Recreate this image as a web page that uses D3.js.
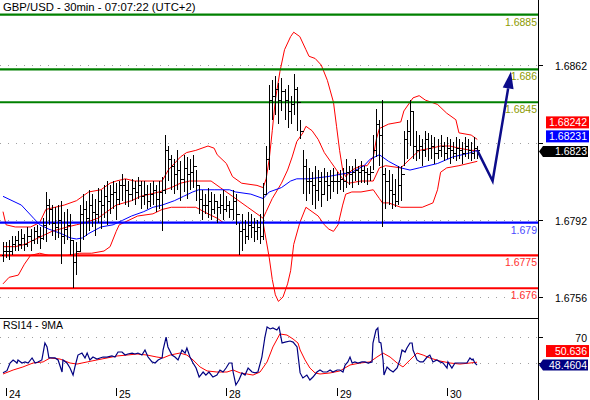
<!DOCTYPE html>
<html><head><meta charset="utf-8">
<script src="https://cdn.jsdelivr.net/npm/d3@7"></script>
<style>body{margin:0;background:#fff}svg{display:block;font-family:Arial,"Liberation Sans",sans-serif}</style>
</head><body><svg id="c" width="590" height="400"></svg>
<script>
const title = "GBP/USD - 30min - 07:07:22 (UTC+2)";
const rsiTitle = "RSI14 - 9MA";
const firstOpen = 1.6775;
const highs = [1.6781,1.6781,1.6782,1.6784,1.6784,1.6786,1.6787,1.6785,1.6788,1.6787,
1.6788,1.6789,1.6788,1.6792,1.6804,1.6801,1.6798,1.6797,1.6798,1.6800,
1.6795,1.6796,1.6794,1.6782,1.6781,1.6798,1.6803,1.6800,1.6805,1.6803,
1.6801,1.6806,1.6805,1.6807,1.6809,1.6807,1.6809,1.6808,1.6809,1.6812,
1.6810,1.6809,1.6810,1.6809,1.6811,1.6809,1.6809,1.6807,1.6808,1.6809,
1.6807,1.6809,1.6811,1.6830,1.6825,1.6821,1.6819,1.6823,1.6818,1.6821,
1.6820,1.6819,1.6821,1.6814,1.6807,1.6805,1.6803,1.6806,1.6804,1.6803,
1.6800,1.6803,1.6805,1.6802,1.6800,1.6805,1.6803,1.6790,1.6794,1.6791,
1.6795,1.6794,1.6792,1.6791,1.6794,1.6808,1.6825,1.6853,1.6855,1.6857,
1.6854,1.6856,1.6851,1.6853,1.6848,1.6858,1.6852,1.6837,1.6823,1.6819,
1.6815,1.6813,1.6816,1.6814,1.6813,1.6815,1.6813,1.6814,1.6815,1.6813,
1.6814,1.6815,1.6819,1.6816,1.6816,1.6819,1.6816,1.6818,1.6816,1.6815,
1.6816,1.6830,1.6842,1.6837,1.6846,1.6815,1.6814,1.6812,1.6810,1.6816,
1.6816,1.6832,1.6837,1.6846,1.6841,1.6832,1.6830,1.6828,1.6832,1.6831,
1.6830,1.6829,1.6828,1.6830,1.6827,1.6829,1.6828,1.6827,1.6829,1.6828,
1.6827,1.6829,1.6828,1.6827,1.6829,1.6825];
const lows = [1.6772,1.6774,1.6773,1.6775,1.6777,1.6777,1.6778,1.6777,1.6779,1.6777,
1.6780,1.6780,1.6778,1.6782,1.6781,1.6789,1.6784,1.6782,1.6783,1.6771,
1.6780,1.6782,1.6775,1.6760,1.6766,1.6777,1.6782,1.6784,1.6786,1.6788,
1.6784,1.6790,1.6787,1.6792,1.6789,1.6794,1.6796,1.6791,1.6798,1.6800,
1.6798,1.6797,1.6800,1.6798,1.6801,1.6796,1.6798,1.6796,1.6797,1.6798,
1.6795,1.6796,1.6786,1.6803,1.6809,1.6805,1.6803,1.6805,1.6800,1.6804,
1.6801,1.6805,1.6806,1.6800,1.6794,1.6791,1.6794,1.6792,1.6791,1.6794,
1.6790,1.6794,1.6791,1.6795,1.6792,1.6791,1.6789,1.6775,1.6777,1.6780,
1.6782,1.6783,1.6781,1.6782,1.6780,1.6782,1.6803,1.6814,1.6837,1.6839,
1.6835,1.6841,1.6837,1.6833,1.6835,1.6839,1.6832,1.6828,1.6803,1.6800,
1.6803,1.6798,1.6796,1.6800,1.6797,1.6803,1.6800,1.6801,1.6804,1.6803,
1.6805,1.6804,1.6806,1.6807,1.6806,1.6809,1.6807,1.6808,1.6808,1.6807,
1.6809,1.6814,1.6820,1.6816,1.6788,1.6796,1.6798,1.6796,1.6797,1.6798,
1.6800,1.6816,1.6819,1.6825,1.6819,1.6818,1.6819,1.6816,1.6820,1.6818,
1.6819,1.6817,1.6819,1.6820,1.6818,1.6819,1.6817,1.6819,1.6818,1.6819,
1.6817,1.6820,1.6819,1.6818,1.6819,1.6819];
const closes = [1.6777,1.6777,1.6777,1.6780,1.6782,1.6780,1.6783,1.6780,1.6784,1.6782,
1.6786,1.6784,1.6783,1.6789,1.6798,1.6796,1.6790,1.6788,1.6791,1.6784,
1.6787,1.6789,1.6782,1.6772,1.6777,1.6794,1.6796,1.6792,1.6798,1.6795,
1.6794,1.6800,1.6798,1.6802,1.6800,1.6803,1.6804,1.6801,1.6807,1.6807,
1.6805,1.6803,1.6806,1.6804,1.6807,1.6802,1.6803,1.6800,1.6803,1.6805,
1.6801,1.6804,1.6805,1.6823,1.6819,1.6816,1.6812,1.6814,1.6810,1.6815,
1.6812,1.6813,1.6816,1.6807,1.6801,1.6798,1.6798,1.6800,1.6796,1.6800,
1.6797,1.6798,1.6796,1.6798,1.6796,1.6800,1.6794,1.6786,1.6787,1.6784,
1.6789,1.6788,1.6786,1.6788,1.6784,1.6803,1.6819,1.6846,1.6848,1.6851,
1.6846,1.6850,1.6846,1.6841,1.6844,1.6851,1.6845,1.6832,1.6816,1.6809,
1.6809,1.6807,1.6805,1.6809,1.6803,1.6809,1.6807,1.6809,1.6809,1.6809,
1.6810,1.6809,1.6813,1.6812,1.6813,1.6814,1.6813,1.6814,1.6813,1.6812,
1.6813,1.6823,1.6835,1.6830,1.6812,1.6809,1.6805,1.6803,1.6800,1.6807,
1.6812,1.6828,1.6832,1.6841,1.6825,1.6823,1.6825,1.6823,1.6828,1.6824,
1.6825,1.6822,1.6823,1.6825,1.6822,1.6824,1.6823,1.6822,1.6824,1.6823,
1.6822,1.6825,1.6823,1.6822,1.6824,1.6823];

const bbUpper = [[0,1.6795],[1,1.6789],[4,1.6788],[9,1.6788],[12,1.6790],[14,1.6796],[17,1.6797],[20,1.6798],[24,1.6800],[26,1.6802],[28,1.6804],[32,1.6805],[35,1.6808],[37,1.6809],[40,1.6810],[43,1.6809],[46,1.6809],[50,1.6809],[52,1.6809],[54,1.6814],[56,1.6817],[58,1.6820],[60,1.6822],[63,1.6823],[67,1.6825],[69,1.6824],[70,1.6821],[73,1.6817],[75,1.6811],[78,1.6808],[83,1.6807],[85,1.6806],[86,1.6810],[87,1.6819],[88,1.6832],[89,1.6846],[90.5,1.6859],[92,1.6869],[94,1.6875],[95,1.6877],[97,1.6875],[99,1.6869],[100,1.6866],[102,1.6865],[104,1.6862],[106,1.6855],[108,1.6845],[109,1.6834],[110,1.6823],[111,1.6814],[112,1.6811],[114,1.6814],[117,1.6816],[119,1.6816],[121,1.6820],[122,1.6828],[123,1.6833],[126,1.6835],[130,1.6836],[131,1.6841],[133,1.6845],[134,1.6847],[136,1.6848],[138,1.6846],[142,1.6844],[145,1.6840],[148,1.6837],[149,1.6831],[153,1.6830],[155,1.6828]];
const bbMiddle = [[0,1.6779],[4,1.6779],[7,1.6780],[10,1.6782],[13,1.6784],[16,1.6786],[21,1.6788],[24,1.6789],[27,1.6790],[31,1.6792],[34,1.6795],[37,1.6798],[42,1.6800],[45,1.6802],[48,1.6803],[51,1.6804],[55,1.6806],[58,1.6808],[61,1.6809],[64,1.6809],[68,1.6809],[71,1.6806],[75,1.6802],[80,1.6797],[83,1.6794],[85,1.6792],[86,1.6795],[88,1.6801],[91,1.6808],[93,1.6814],[94.5,1.6820],[96,1.6827],[98,1.6831],[99,1.6834],[101,1.6832],[103,1.6828],[105,1.6822],[107,1.6818],[109,1.6814],[111,1.6810],[113,1.6808],[117,1.6809],[121,1.6809],[123,1.6815],[125,1.6816],[130,1.6815],[133,1.6819],[136,1.6823],[140,1.6824],[143,1.6825],[146,1.6825],[149,1.6824],[153,1.6823],[155,1.6823]];
const bbLower = [[0,1.6762],[2,1.6765],[5,1.6766],[7,1.6771],[9,1.6775],[12,1.6776],[15,1.6775],[21,1.6775],[25,1.6776],[29,1.6776],[33,1.6777],[35,1.6779],[37,1.6786],[38,1.6789],[41,1.6791],[44,1.6793],[49,1.6794],[52,1.6796],[55,1.6797],[60,1.6797],[63,1.6797],[67,1.6794],[70,1.6792],[72,1.6790],[75,1.6790],[81,1.6790],[85,1.6790],[86,1.6782],[87,1.6774],[88,1.6764],[89,1.6757],[90,1.6754],[91.5,1.6756],[93,1.6762],[94,1.6768],[95,1.6780],[97,1.6790],[99,1.6797],[101,1.6795],[103,1.6793],[105,1.6789],[106.5,1.6787],[108,1.6786],[109.5,1.6789],[111,1.6798],[112,1.6803],[114,1.6804],[117,1.6804],[121,1.6805],[123,1.6801],[124,1.6799],[126,1.6799],[130,1.6797],[133,1.6797],[137,1.6797],[140.5,1.6799],[142,1.6805],[143,1.6813],[145,1.6815],[149,1.6816],[155,1.6818]];
const maBlue = [[0,1.6802],[6,1.6798],[10,1.6792],[12,1.6789],[15,1.6787],[19,1.6785],[22,1.6783],[24,1.67825],[26,1.6783],[28,1.6785],[32,1.6788],[36,1.6789],[39,1.6791],[42,1.6793],[46,1.6795],[49,1.6797],[52,1.6798],[56,1.6800],[59,1.6802],[62,1.6804],[64,1.6805],[69,1.6805],[74,1.6805],[76,1.6804],[81,1.6803],[85,1.6801],[87,1.6804],[91,1.6806],[94,1.6809],[96,1.6810],[100,1.6810],[106,1.6811],[110,1.6812],[114,1.6813],[118,1.6816],[120,1.6819],[123,1.6821],[124,1.6820],[126,1.6818],[130,1.6815],[133,1.6814],[136,1.6815],[142,1.6817],[147,1.6820],[153,1.6822],[155,1.6823]];

const rsi = [[0,42.7],[1.3,44.2],[2.3,50],[3.3,52.3],[4.6,50],[4.9,52.3],[6.2,50],[7.2,50.8],[8.2,50],[9.5,53.8],[10.5,50],[11.4,50.8],[12.7,52.3],[13.7,65.1],[14.4,62.1],[15,53.8],[16,53.8],[17,53.8],[18,52.3],[19.3,43.2],[19.6,52.3],[20.9,50],[21.9,46.2],[22.9,40.9],[23.5,47],[24.5,56],[25.8,57.5],[26.8,53.8],[27.5,57.5],[28.4,52.3],[29.4,54.5],[30.7,53],[31.7,53.8],[32.7,54.5],[34,54.5],[35.6,55.3],[36.6,54.5],[37.6,58.3],[38.9,58.3],[39.9,56],[40.8,56.8],[42.2,57.5],[43.1,56.8],[44.1,57.5],[45.4,56],[46.4,59.8],[47.4,54.5],[48.7,50.8],[49.7,50],[50.7,52.3],[52,53.8],[52.3,59.8],[53.3,69.6],[53.9,62.1],[55.2,56],[56.2,54.5],[57.2,52.3],[58.5,59.8],[59.5,57.5],[60.1,61.3],[61.1,54.5],[62.1,50],[63.1,46.2],[64.1,39.4],[65.4,43.2],[66.3,40.9],[67.3,43.2],[68.6,39.4],[69.9,40.9],[70.9,44.7],[71.9,43.2],[72.9,46.2],[73.9,50],[74.8,50],[75.2,43.2],[76.1,33.4],[77.1,37.2],[78.1,42.5],[79.1,40.9],[80.1,46.2],[81.4,43.2],[82.4,42.5],[83.3,43.2],[84.6,54.5],[85.6,69.6],[86.3,77.2],[87.3,75.7],[88.2,76.4],[89.5,74.9],[90.2,77.2],[91.2,65.1],[92.2,65.8],[93.8,66.6],[94.8,65.8],[96.1,62.1],[97.1,42.5],[98,38.7],[99.3,40.9],[100.3,37.2],[101.3,39.4],[102.6,43.2],[103.6,44.7],[104.6,43.2],[105.9,43.2],[106.9,44.7],[107.8,43.2],[109.2,44.7],[110.1,44.7],[111.1,43.2],[111.8,48.5],[112.7,50.8],[113.4,54.5],[114.1,50],[115,50.8],[116,50],[117.3,50.8],[118.3,50.8],[119.3,50],[120.6,50.8],[120.9,65.1],[121.9,74.9],[122.5,76.4],[122.9,65.8],[123.5,65.1],[124.2,52.3],[124.5,40.9],[125.5,47],[126.5,44.7],[127.5,43.2],[128.8,46.2],[129.7,52.3],[130.4,59.8],[131.4,58.3],[132,61.3],[133,65.1],[133.7,65.1],[134,59.8],[135.3,52.3],[136.3,50.8],[137.3,50.8],[138.6,54.5],[139.5,56],[140.5,50.8],[141.8,52.3],[142.8,50.8],[143.8,50],[145.1,46.2],[145.4,50.8],[146.7,46.2],[147.7,50],[148.7,50],[150.3,50],[151.6,50],[152.6,53.8],[153.3,52.3],[153.6,53],[154.2,50],[154.9,48.46]];
const rsiMA = [[0,41.7],[3.3,44.7],[6.5,47],[9.8,50],[13.1,50.8],[15.4,53.8],[18.6,53],[21.9,50],[24.2,49.2],[27.5,50.8],[30.7,52.3],[34,53.8],[37.3,55.3],[40.5,56],[43.8,56.8],[47.1,56],[50.3,54.5],[52.3,53.8],[54.6,56],[57.8,57.5],[60.1,56],[62.1,52.3],[64.4,47],[66.7,44],[69.9,43.2],[73.2,43.2],[75.2,44.7],[77.5,42.5],[79.7,41.7],[81.7,40.9],[84,43.2],[86.3,50.8],[88.2,62.1],[90.5,71.9],[92.8,71.1],[94.8,68.1],[96.4,65.1],[97.1,59.8],[98.7,52.3],[100.3,46.2],[102,42.5],[103.6,41.7],[106.9,42.5],[110.1,44],[113.4,48.5],[116.7,50],[119.9,50.8],[122.2,54.5],[124.2,57.5],[126.5,54.5],[128.8,50],[130.7,47],[133,52.3],[135.3,57.5],[137.3,56],[139.5,53.8],[142.8,51.5],[146.1,50],[149.3,49.2],[152.6,50],[154.9,50.6]];

const dayTicks = [1,37,73,109,145];
const dayLabels = ["24","25","28","29","30"];
const priceTicks = [1.6862,1.68265,1.6791,1.6756];
const priceTickLabels = ["1.6862","","1.6792","1.6756"];
const rsiTicks = [70,50];
const rsiTickLabels = ["70",""];
const greenLevels = [1.6885,1.686,1.6845];
const greenLabels = ["1.6885","1.686","1.6845"];
const blueLevels = [1.679];
const blueLabels = ["1.679"];
const redLevels = [1.6775,1.676];
const redLabels = ["1.6775","1.676"];
const forecast = [[155,1.6823],[160,1.6809],[166,1.6859]];
const markerBB = "1.68242", markerMA = "1.68231", markerPrice = "1.6823";
const markerRsiMA = "50.636", markerRsi = "48.4604";

const svg = d3.select("#c");
const plotR = 538, panelSep = 318;
const x = d3.scaleLinear().domain([0,155]).range([3,477.3]);
const y = d3.scaleLinear().domain([1.6756,1.6885]).range([297,14.7]);
const yR = d3.scaleLinear().domain([50,70]).range([363,336.5]);
const FS = "10.5px";

// grid dotted lines
const grid = svg.append("g");
priceTicks.forEach(v=>{
  grid.append("line").attr("x1",0).attr("x2",plotR).attr("y1",Math.round(y(v))+0.5).attr("y2",Math.round(y(v))+0.5)
    .attr("stroke","#a0a0a0").attr("stroke-dasharray","1,7");
});
rsiTicks.forEach(v=>{
  grid.append("line").attr("x1",0).attr("x2",plotR).attr("y1",Math.round(yR(v))+0.5).attr("y2",Math.round(yR(v))+0.5)
    .attr("stroke","#a0a0a0").attr("stroke-dasharray","1,7");
});

// level lines
function levels(arr, labels, color, tcolor){
  arr.forEach((v,i)=>{
    const yy = y(v);
    svg.append("line").attr("x1",0).attr("x2",plotR).attr("y1",yy).attr("y2",yy).attr("stroke",color).attr("stroke-width",2.2);
    svg.append("text").attr("x",plotR-1).attr("y",yy+11).attr("text-anchor","end").attr("font-size",FS).attr("fill",tcolor).text(labels[i]);
  });
}

const line = d3.line().x(d=>x(d[0])).y(d=>y(d[1]));
svg.append("defs").append("clipPath").attr("id","cm").append("rect").attr("x",0).attr("y",0).attr("width",plotR).attr("height",panelSep);
const gMain = svg.append("g").attr("clip-path","url(#cm)");

// bands
[bbUpper,bbMiddle,bbLower].forEach(b=>{
  gMain.append("path").datum(b).attr("d",line).attr("fill","none").attr("stroke","#ff0000").attr("stroke-width",1);
});
gMain.append("path").datum(maBlue).attr("d",line).attr("fill","none").attr("stroke","#0000ff").attr("stroke-width",1);

levels(greenLevels, greenLabels, "#008000", "#8c9a00");
levels(blueLevels, blueLabels, "#0000ff", "#4a4aff");
levels(redLevels, redLabels, "#ff0000", "#ff3030");

// bars
const opens = closes.map((c,i)=> i===0 ? firstOpen : closes[i-1]);
const gb = svg.append("g").attr("stroke","#000").attr("stroke-width",1).attr("shape-rendering","crispEdges");
highs.forEach((h,i)=>{
  const xx = Math.round(x(i))+0.5;
  gb.append("line").attr("x1",xx).attr("x2",xx).attr("y1",y(h)).attr("y2",y(lows[i]));
  gb.append("line").attr("x1",xx-2).attr("x2",xx).attr("y1",Math.round(y(opens[i]))+0.5).attr("y2",Math.round(y(opens[i]))+0.5);
  gb.append("line").attr("x1",xx).attr("x2",xx+2).attr("y1",Math.round(y(closes[i]))+0.5).attr("y2",Math.round(y(closes[i]))+0.5);
});

// forecast arrow
const fc = forecast.map(d=>[x(d[0]),y(d[1])]);
const last = fc[fc.length-1], prev = fc[fc.length-2];
const ang = Math.atan2(last[1]-prev[1], last[0]-prev[0]);
const headLen = 17, headW = 5.5;
const bx = last[0]-headLen*Math.cos(ang), by = last[1]-headLen*Math.sin(ang);
svg.append("path").attr("d", d3.line()([fc[0],fc[1],[bx,by]])).attr("fill","none").attr("stroke","#0c0c8a").attr("stroke-width",2.5);
svg.append("path").attr("d", d3.line()([last,[bx+headW*Math.sin(ang),by-headW*Math.cos(ang)],[bx-headW*Math.sin(ang),by+headW*Math.cos(ang)]])+"Z").attr("fill","#0c0c8a");

// RSI
const lineR = d3.line().x(d=>x(d[0])).y(d=>yR(d[1]));
svg.append("path").datum(rsiMA).attr("d",lineR).attr("fill","none").attr("stroke","#ff0000").attr("stroke-width",1);
svg.append("path").datum(rsi).attr("d",lineR).attr("fill","none").attr("stroke","#000080").attr("stroke-width",1.2);

// frame lines
svg.append("line").attr("x1",plotR+0.5).attr("x2",plotR+0.5).attr("y1",0).attr("y2",400).attr("stroke","#000");
svg.append("line").attr("x1",0).attr("x2",plotR).attr("y1",panelSep+0.5).attr("y2",panelSep+0.5).attr("stroke","#000");

// right axis ticks
priceTicks.forEach((v,i)=>{
  const yy = Math.round(y(v))+0.5;
  svg.append("line").attr("x1",plotR).attr("x2",plotR+5).attr("y1",yy).attr("y2",yy).attr("stroke","#000");
  if(priceTickLabels[i]) svg.append("text").attr("x",587).attr("y",yy+4).attr("text-anchor","end").attr("font-size",FS).attr("fill","#000").text(priceTickLabels[i]);
});
rsiTicks.forEach((v,i)=>{
  const yy = Math.round(yR(v))+0.5;
  svg.append("line").attr("x1",plotR).attr("x2",plotR+5).attr("y1",yy).attr("y2",yy).attr("stroke","#000");
  if(rsiTickLabels[i]) svg.append("text").attr("x",587).attr("y",yy+4).attr("text-anchor","end").attr("font-size",FS).attr("fill","#000").text(rsiTickLabels[i]);
});

// markers
function box(yc, txt, bg, arrow){
  if(arrow){
    svg.append("path").attr("d",`M${plotR+1},${yc} L${plotR+5},${yc-5.5} L588,${yc-5.5} L588,${yc+5.5} L${plotR+5},${yc+5.5} Z`).attr("fill",bg);
  } else {
    svg.append("rect").attr("x",546).attr("y",yc-6).attr("width",43).attr("height",12).attr("fill",bg);
  }
  svg.append("text").attr("x",587).attr("y",yc+4).attr("text-anchor","end").attr("font-size",FS).attr("fill","#fff").text(txt);
}
const yp = y(closes[closes.length-1]) + 1;
box(yp, markerPrice, "#000", true);
box(yp-15, markerMA, "#0000ff", false);
box(yp-29, markerBB, "#ff0000", false);
const yr = yR(48.46);
box(yr, markerRsi, "#000080", true);
box(yr-14, markerRsiMA, "#ff0000", false);

// x axis
dayTicks.forEach((t,i)=>{
  const xx = Math.round(x(t))+0.5;
  svg.append("line").attr("x1",xx).attr("x2",xx).attr("y1",388).attr("y2",396).attr("stroke","#000");
  svg.append("text").attr("x",xx+2.5).attr("y",398).attr("font-size",FS).attr("fill","#000").text(dayLabels[i]);
});

// titles
svg.append("text").attr("x",3).attr("y",11).attr("font-size","11.3px").attr("fill","#000").text(title);
svg.append("text").attr("x",3).attr("y",329).attr("font-size",FS).attr("fill","#000").text(rsiTitle);
</script></body></html>
